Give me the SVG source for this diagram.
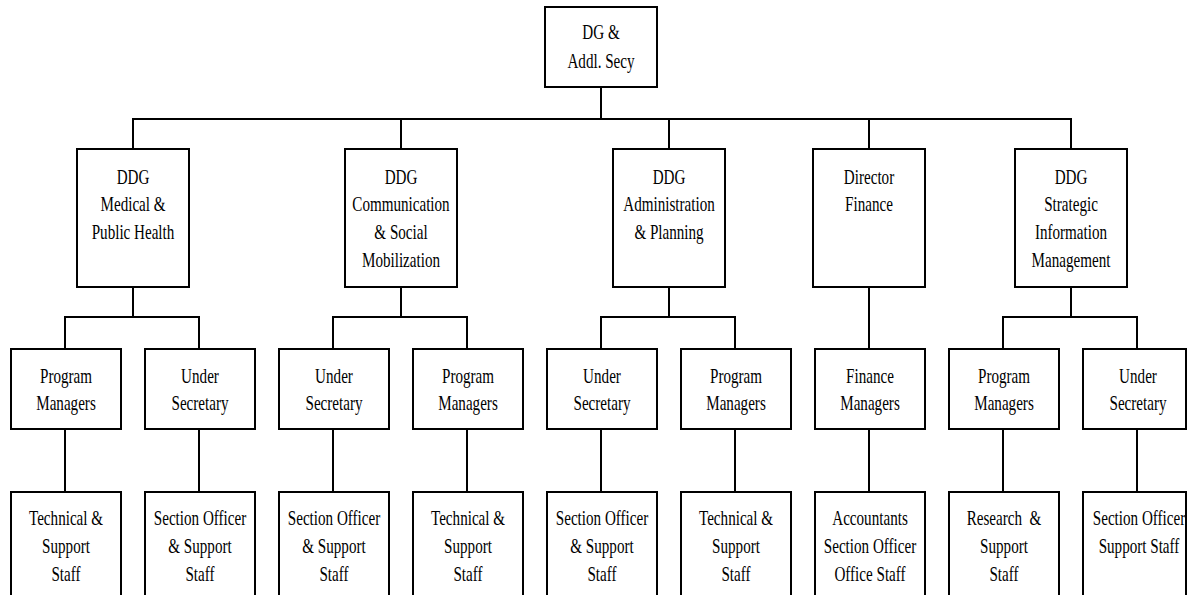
<svg xmlns="http://www.w3.org/2000/svg" width="1187" height="595" viewBox="0 0 1187 595">
<style>
rect.b{fill:#fff;stroke:#000;stroke-width:2}
.c line{stroke:#000;stroke-width:2;stroke-linecap:square}
text{font-family:"Liberation Serif","Times New Roman",serif;font-size:21px;fill:#000;text-anchor:middle;white-space:pre}
</style>
<rect width="1187" height="595" fill="#fff"/>
<g class="c" id="connectors">
<line x1="601" y1="87" x2="601" y2="119"/>
<line x1="133" y1="119" x2="1071" y2="119"/>
<line x1="133" y1="119" x2="133" y2="149"/>
<line x1="401" y1="119" x2="401" y2="149"/>
<line x1="669" y1="119" x2="669" y2="149"/>
<line x1="869" y1="119" x2="869" y2="149"/>
<line x1="1071" y1="119" x2="1071" y2="149"/>
<line x1="133" y1="287" x2="133" y2="317"/>
<line x1="401" y1="287" x2="401" y2="317"/>
<line x1="669" y1="287" x2="669" y2="317"/>
<line x1="869" y1="287" x2="869" y2="349"/>
<line x1="1071" y1="287" x2="1071" y2="317"/>
<line x1="65" y1="317" x2="199" y2="317"/>
<line x1="333" y1="317" x2="467" y2="317"/>
<line x1="601" y1="317" x2="735" y2="317"/>
<line x1="1003" y1="317" x2="1137" y2="317"/>
<line x1="65" y1="317" x2="65" y2="349"/>
<line x1="199" y1="317" x2="199" y2="349"/>
<line x1="333" y1="317" x2="333" y2="349"/>
<line x1="467" y1="317" x2="467" y2="349"/>
<line x1="601" y1="317" x2="601" y2="349"/>
<line x1="735" y1="317" x2="735" y2="349"/>
<line x1="1003" y1="317" x2="1003" y2="349"/>
<line x1="1137" y1="317" x2="1137" y2="349"/>
<line x1="65" y1="429" x2="65" y2="492"/>
<line x1="199" y1="429" x2="199" y2="492"/>
<line x1="333" y1="429" x2="333" y2="492"/>
<line x1="467" y1="429" x2="467" y2="492"/>
<line x1="601" y1="429" x2="601" y2="492"/>
<line x1="735" y1="429" x2="735" y2="492"/>
<line x1="869" y1="429" x2="869" y2="492"/>
<line x1="1003" y1="429" x2="1003" y2="492"/>
<line x1="1137" y1="429" x2="1137" y2="492"/>
</g>
<g id="dg"><rect class="b" x="545" y="7" width="112" height="80"/>
<text transform="translate(601 0) scale(0.72 1)"><tspan x="0" y="39">DG &amp;</tspan><tspan x="0" y="68">Addl. Secy</tspan></text></g>
<g id="ddg-medical"><rect class="b" x="77" y="149" width="112" height="138"/>
<text transform="translate(133 0) scale(0.72 1)"><tspan x="0" y="184">DDG</tspan><tspan x="0" y="211.5">Medical &amp;</tspan><tspan x="0" y="239">Public Health</tspan></text></g>
<g id="ddg-comm"><rect class="b" x="345" y="149" width="112" height="138"/>
<text transform="translate(401 0) scale(0.72 1)"><tspan x="0" y="184">DDG</tspan><tspan x="0" y="211.5">Communication</tspan><tspan x="0" y="239">&amp; Social</tspan><tspan x="0" y="267">Mobilization</tspan></text></g>
<g id="ddg-admin"><rect class="b" x="613" y="149" width="112" height="138"/>
<text transform="translate(669 0) scale(0.72 1)"><tspan x="0" y="184">DDG</tspan><tspan x="0" y="211.5">Administration</tspan><tspan x="0" y="239">&amp; Planning</tspan></text></g>
<g id="dir-finance"><rect class="b" x="813" y="149" width="112" height="138"/>
<text transform="translate(869 0) scale(0.72 1)"><tspan x="0" y="184">Director</tspan><tspan x="0" y="211.5">Finance</tspan></text></g>
<g id="ddg-sim"><rect class="b" x="1015" y="149" width="112" height="138"/>
<text transform="translate(1071 0) scale(0.72 1)"><tspan x="0" y="184">DDG</tspan><tspan x="0" y="211.5">Strategic</tspan><tspan x="0" y="239">Information</tspan><tspan x="0" y="267">Management</tspan></text></g>

<g id="pm1"><rect class="b" x="11" y="349" width="110" height="80"/>
<text transform="translate(66 0) scale(0.72 1)"><tspan x="0" y="383">Program</tspan><tspan x="0" y="410">Managers</tspan></text></g>
<g id="us1"><rect class="b" x="145" y="349" width="110" height="80"/>
<text transform="translate(200 0) scale(0.72 1)"><tspan x="0" y="383">Under</tspan><tspan x="0" y="410">Secretary</tspan></text></g>
<g id="us2"><rect class="b" x="279" y="349" width="110" height="80"/>
<text transform="translate(334 0) scale(0.72 1)"><tspan x="0" y="383">Under</tspan><tspan x="0" y="410">Secretary</tspan></text></g>
<g id="pm2"><rect class="b" x="413" y="349" width="110" height="80"/>
<text transform="translate(468 0) scale(0.72 1)"><tspan x="0" y="383">Program</tspan><tspan x="0" y="410">Managers</tspan></text></g>
<g id="us3"><rect class="b" x="547" y="349" width="110" height="80"/>
<text transform="translate(602 0) scale(0.72 1)"><tspan x="0" y="383">Under</tspan><tspan x="0" y="410">Secretary</tspan></text></g>
<g id="pm3"><rect class="b" x="681" y="349" width="110" height="80"/>
<text transform="translate(736 0) scale(0.72 1)"><tspan x="0" y="383">Program</tspan><tspan x="0" y="410">Managers</tspan></text></g>
<g id="fm"><rect class="b" x="815" y="349" width="110" height="80"/>
<text transform="translate(870 0) scale(0.72 1)"><tspan x="0" y="383">Finance</tspan><tspan x="0" y="410">Managers</tspan></text></g>
<g id="pm4"><rect class="b" x="949" y="349" width="110" height="80"/>
<text transform="translate(1004 0) scale(0.72 1)"><tspan x="0" y="383">Program</tspan><tspan x="0" y="410">Managers</tspan></text></g>
<g id="us4"><rect class="b" x="1083" y="349" width="103" height="80"/>
<text transform="translate(1138 0) scale(0.72 1)"><tspan x="0" y="383">Under</tspan><tspan x="0" y="410">Secretary</tspan></text></g>

<g id="ts1"><rect class="b" x="11" y="492" width="110" height="120"/>
<text transform="translate(66 0) scale(0.72 1)"><tspan x="0" y="525">Technical &amp;</tspan><tspan x="0" y="553">Support</tspan><tspan x="0" y="581">Staff</tspan></text></g>
<g id="so1"><rect class="b" x="145" y="492" width="110" height="120"/>
<text transform="translate(200 0) scale(0.72 1)"><tspan x="0" y="525">Section Officer</tspan><tspan x="0" y="553">&amp; Support</tspan><tspan x="0" y="581">Staff</tspan></text></g>
<g id="so2"><rect class="b" x="279" y="492" width="110" height="120"/>
<text transform="translate(334 0) scale(0.72 1)"><tspan x="0" y="525">Section Officer</tspan><tspan x="0" y="553">&amp; Support</tspan><tspan x="0" y="581">Staff</tspan></text></g>
<g id="ts2"><rect class="b" x="413" y="492" width="110" height="120"/>
<text transform="translate(468 0) scale(0.72 1)"><tspan x="0" y="525">Technical &amp;</tspan><tspan x="0" y="553">Support</tspan><tspan x="0" y="581">Staff</tspan></text></g>
<g id="so3"><rect class="b" x="547" y="492" width="110" height="120"/>
<text transform="translate(602 0) scale(0.72 1)"><tspan x="0" y="525">Section Officer</tspan><tspan x="0" y="553">&amp; Support</tspan><tspan x="0" y="581">Staff</tspan></text></g>
<g id="ts3"><rect class="b" x="681" y="492" width="110" height="120"/>
<text transform="translate(736 0) scale(0.72 1)"><tspan x="0" y="525">Technical &amp;</tspan><tspan x="0" y="553">Support</tspan><tspan x="0" y="581">Staff</tspan></text></g>
<g id="acc"><rect class="b" x="815" y="492" width="110" height="120"/>
<text transform="translate(870 0) scale(0.72 1)"><tspan x="0" y="525">Accountants</tspan><tspan x="0" y="553">Section Officer</tspan><tspan x="0" y="581">Office Staff</tspan></text></g>
<g id="rs"><rect class="b" x="949" y="492" width="110" height="120"/>
<text transform="translate(1004 0) scale(0.72 1)"><tspan x="0" y="525">Research  &amp;</tspan><tspan x="0" y="553">Support</tspan><tspan x="0" y="581">Staff</tspan></text></g>
<g id="so4"><rect class="b" x="1083" y="492" width="103" height="120"/>
<text transform="translate(1139 0) scale(0.72 1)"><tspan x="0" y="525">Section Officer</tspan><tspan x="0" y="553">Support Staff</tspan></text></g>
</svg>
